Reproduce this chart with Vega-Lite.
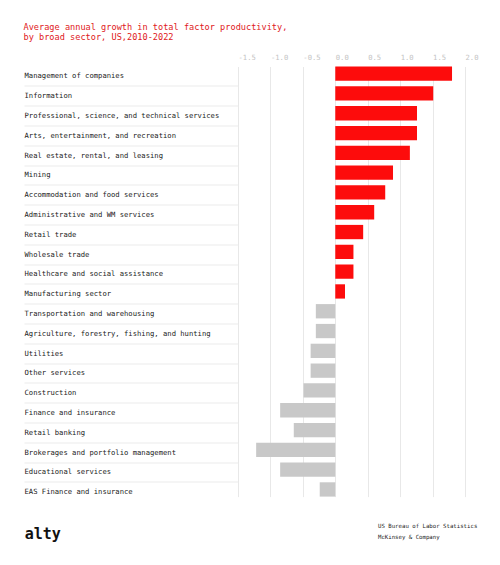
{
  "$schema": "https://vega.github.io/schema/vega-lite/v6.json",
  "padding": {"left": 23, "top": 22.5, "right": 0, "bottom": 10},
  "background": "white",
  "config": {"view": {"stroke": null}, "font": "DejaVu Sans Mono"},
  "title": {
    "text": ["Average annual growth in total factor productivity,", "by broad sector, US,2010-2022"],
    "anchor": "start", "frame": "bounds", "color": "#e0181b", "font": "DejaVu Sans Mono",
    "fontSize": 8.6, "fontWeight": "normal", "lineHeight": 9.5, "offset": 12
  },
  "spacing": 23,
  "vconcat": [
    {
      "width": 227,
      "height": {"step": 19.8},
      "data": {"values": [
        {"sector": "Management of companies", "growth": 1.80},
        {"sector": "Information", "growth": 1.51},
        {"sector": "Professional, science, and technical services", "growth": 1.26},
        {"sector": "Arts, entertainment, and recreation", "growth": 1.26},
        {"sector": "Real estate, rental, and leasing", "growth": 1.15},
        {"sector": "Mining", "growth": 0.89},
        {"sector": "Accommodation and food services", "growth": 0.77},
        {"sector": "Administrative and WM services", "growth": 0.60},
        {"sector": "Retail trade", "growth": 0.43},
        {"sector": "Wholesale trade", "growth": 0.28},
        {"sector": "Healthcare and social assistance", "growth": 0.28},
        {"sector": "Manufacturing sector", "growth": 0.15},
        {"sector": "Transportation and warehousing", "growth": -0.30},
        {"sector": "Agriculture, forestry, fishing, and hunting", "growth": -0.30},
        {"sector": "Utilities", "growth": -0.38},
        {"sector": "Other services", "growth": -0.38},
        {"sector": "Construction", "growth": -0.49},
        {"sector": "Finance and insurance", "growth": -0.85},
        {"sector": "Retail banking", "growth": -0.64},
        {"sector": "Brokerages and portfolio management", "growth": -1.22},
        {"sector": "Educational services", "growth": -0.85},
        {"sector": "EAS Finance and insurance", "growth": -0.24}
      ]},
      "mark": {"type": "bar"},
      "encoding": {
        "y": {
          "field": "sector", "type": "nominal", "sort": null,
          "scale": {"paddingInner": 0.278, "paddingOuter": 0},
          "axis": {
            "title": null, "domain": false, "bandPosition": 0, "tickSize": 214, "tickWidth": 1,
            "tickColor": {"condition": {"test": "datum.value === 'Management of companies'", "value": "transparent"}, "value": "#ebebeb"},
            "labelAlign": "left", "labelBaseline": "middle", "labelPadding": 0, "labelOffset": 2.75,
            "labelFont": "DejaVu Sans Mono", "labelFontSize": 7.2, "labelColor": "#222", "labelLimit": 240
          }
        },
        "x": {
          "field": "growth", "type": "quantitative",
          "scale": {"domain": [-1.5, 2], "nice": false},
          "axis": {
            "orient": "top", "title": null, "domain": false, "ticks": false,
            "values": [-1.5, -1, -0.5, 0, 0.5, 1, 1.5, 2],
            "labelExpr": "replace(format(datum.value, '.1f'), '\u2212', '-')",
            "labelAlign": "left", "labelPadding": 5, "labelColor": "#c4c4c4",
            "labelFont": "DejaVu Sans Mono", "labelFontSize": 7.2,
            "labelFlush": false, "labelOverlap": false,
            "gridColor": "#e8e8e8"
          }
        },
        "color": {"condition": {"test": "datum.growth > 0", "value": "#fd0c0c"}, "value": "#c8c8c8"}
      }
    },
    {
      "width": 280, "height": 22.6,
      "title": {
        "text": "alty", "orient": "left", "angle": 0, "align": "right", "baseline": "middle",
        "anchor": "middle", "offset": 141, "dy": 2, "frame": "group",
        "font": "DejaVu Sans Mono", "fontWeight": "bold", "fontSize": 15, "color": "#111"
      },
      "data": {"values": [
        {"source": "US Bureau of Labor Statistics"},
        {"source": "McKinsey & Company"}
      ]},
      "mark": {"type": "text", "font": "DejaVu Sans Mono", "align": "left", "baseline": "middle", "fontSize": 5.7, "color": "#222"},
      "encoding": {
        "y": {"field": "source", "type": "nominal", "sort": null, "axis": null},
        "text": {"field": "source"}
      }
    }
  ]
}
